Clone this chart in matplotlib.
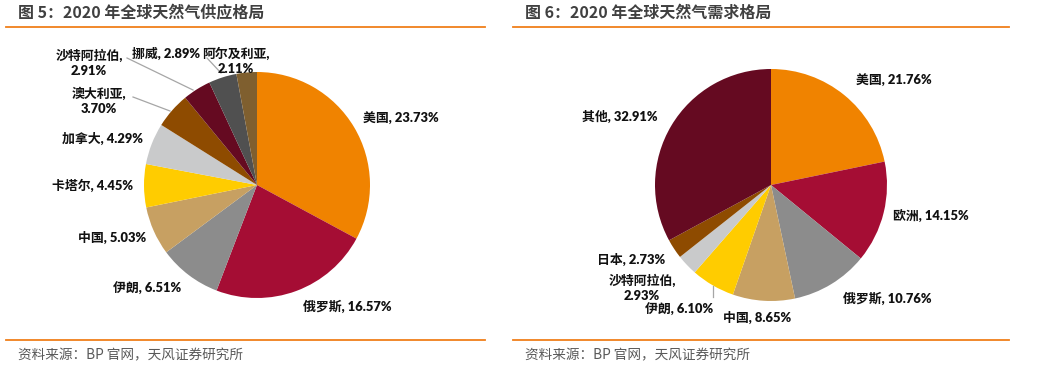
import matplotlib
matplotlib.use("Agg")
import matplotlib.pyplot as plt
from matplotlib.lines import Line2D

# ---------------- data ----------------
supply_labels = ["美国", "俄罗斯", "伊朗", "中国", "卡塔尔", "加拿大", "澳大利亚", "沙特阿拉伯", "挪威", "阿尔及利亚"]
supply_values = [23.73, 16.57, 6.51, 5.03, 4.45, 4.29, 3.70, 2.91, 2.89, 2.11]

demand_labels = ["美国", "欧洲", "俄罗斯", "中国", "伊朗", "沙特阿拉伯", "日本", "其他"]
demand_values = [21.76, 14.15, 10.76, 8.65, 6.10, 2.93, 2.73, 32.91]

title_left = "图 5：2020 年全球天然气供应格局"
title_right = "图 6：2020 年全球天然气需求格局"
source_text = "资料来源：BP 官网，天风证券研究所"

# ---------------- styles ----------------
W, H = 1038, 369
supply_colors = ["#F08300", "#A50D34", "#8C8C8C", "#C7A062", "#FFCC00",
                 "#C9CACB", "#8E4B00", "#650A21", "#505050", "#7F5F2F"]
demand_colors = ["#F08300", "#A50D34", "#8C8C8C", "#C7A062", "#FFCC00",
                 "#C9CACB", "#8E4B00", "#650A21"]

LBL_FONT = ["Lato", "Noto Sans CJK SC"]
CJK_FONT = ["Noto Sans CJK SC", "DejaVu Sans"]

# label text layout (pixel centres), multi-line flags
supply_label_pos = [(401, 118), (347, 306), (147, 288), (112, 237), (93, 185),
                    (102, 138), (99, 101), (89, 63), (166, 53), (236, 61)]
supply_multiline = [False, False, False, False, False, False, True, True, False, True]
demand_label_pos = [(894, 80), (931, 215), (887, 298), (757, 317), (679, 309),
                    (642, 288), (631, 259), (620, 116)]
demand_multiline = [False, False, False, False, False, True, False, False]

supply_leaders = [((127, 58), (193, 90)), ((133, 97), (170, 111)), ((207, 58), (221, 73))]
demand_leaders = [((713, 286), (713, 297))]

fig = plt.figure(figsize=(W / 100, H / 100), dpi=100)


def fx(x):
    return x / W


def fy(y):
    return 1 - y / H


def pie_axes(cx, cy, r, values, colors):
    ax = fig.add_axes([fx(cx - r), fy(cy + r), 2 * r / W, 2 * r / H])
    ax.pie(values, colors=colors, startangle=90, counterclock=False, radius=1,
           wedgeprops=dict(linewidth=0, antialiased=True))
    ax.set_xlim(-1, 1)
    ax.set_ylim(-1, 1)
    ax.set_aspect("auto")
    ax.axis("off")
    return ax


pie_axes(257, 185, 113, supply_values, supply_colors)
pie_axes(771, 185, 116, demand_values, demand_colors)


def add_labels(labels, values, positions, multiline):
    for lab, v, (x, y), ml in zip(labels, values, positions, multiline):
        sep = ",\n" if ml else ", "
        fig.text(fx(x), fy(y), f"{lab}{sep}{v:.2f}%", ha="center", va="center",
                 fontsize=9.3, fontweight="heavy", family=LBL_FONT, color="#111111",
                 linespacing=1.35)


add_labels(supply_labels, supply_values, supply_label_pos, supply_multiline)
add_labels(demand_labels, demand_values, demand_label_pos, demand_multiline)

for (p0, p1) in supply_leaders + demand_leaders:
    fig.add_artist(Line2D([fx(p0[0]), fx(p1[0])], [fy(p0[1]), fy(p1[1])],
                          color="#A6A6A6", lw=0.9, transform=fig.transFigure))

# titles, rules, sources
for tx, title, (l0, l1) in [(18, title_left, (6, 485)), (525, title_right, (513, 1009))]:
    fig.text(fx(tx), fy(13), title, ha="left", va="center", fontsize=11.5,
             fontweight="bold", family=CJK_FONT, color="#404040")
    for yy in (27, 340):
        fig.add_artist(Line2D([fx(l0), fx(l1)], [fy(yy), fy(yy)], color="#F07F1A",
                              lw=1.3, transform=fig.transFigure))
    fig.text(fx(tx), fy(355), source_text, ha="left", va="center", fontsize=9.8,
             family=CJK_FONT, color="#595959")

fig.savefig("out.png", dpi=100)
